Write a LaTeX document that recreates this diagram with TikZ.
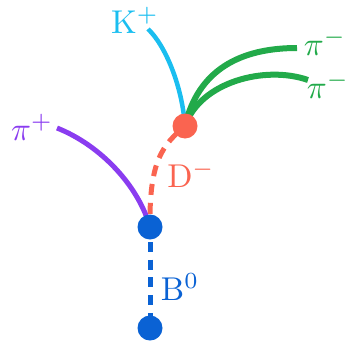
\documentclass[tikz,border=0pt]{standalone}
\definecolor{kcol}{HTML}{1ABEF0}
\definecolor{gcol}{HTML}{22AA4A}
\definecolor{pcol}{HTML}{8A3CF0}
\definecolor{rcol}{HTML}{FA6450}
\definecolor{bcol}{HTML}{0A62D4}
\begin{document}
\begin{tikzpicture}[x=1pt,y=-1pt,
  vtx/.style={circle, fill=#1, minimum size=25pt, inner sep=0pt},
  lbl/.style={inner sep=0pt, text=#1, scale=3.3, transform shape},
  trk/.style={draw=#1, line cap=butt},
  bdash/.style={draw=bcol, line width=5pt, dash pattern=on 10pt off 7.7pt, dash phase=2.7pt},
  rdash/.style={draw=rcol, line width=5pt, dash pattern=on 11pt off 8pt, dash phase=7.5pt}]
\useasboundingbox (0,0) rectangle (347,340);
\coordinate (Bb) at (150,328);
\coordinate (Bv) at (150,227);
\coordinate (Dv) at (185,126);
\coordinate (Kend) at (148,29);
\coordinate (P1end) at (297,48);
\coordinate (P2end) at (308,80);
\coordinate (Ppend) at (57,128);
% tracks
\draw[bdash] (Bv) -- (Bb);
\draw[rdash] (Dv) .. controls (163,145) and (149,160) .. (Bv);
\draw[trk=pcol, line width=5pt] (Ppend) .. controls (100,145) and (138,185) .. (Bv);
\draw[trk=kcol, line width=4.5pt] (Kend) .. controls (165,45) and (182,85) .. (Dv);
\draw[trk=gcol, line width=6pt] (Dv) .. controls (198,70) and (240,48) .. (P1end);
\draw[trk=gcol, line width=6pt] (Dv) .. controls (200,82) and (265,65) .. (P2end);
% vertices
\node[vtx=bcol] (Bbot) at (Bb) {};
\node[vtx=bcol] (Bvtx) at (Bv) {};
\node[vtx=rcol] (Dvtx) at (Dv) {};
% labels
\node[lbl=kcol] (Klbl) at (135,20) {$\mathrm{K}^{+}$};
\node[lbl=gcol] (pm1) at (325,42) {$\pi^{-}$};
\node[lbl=gcol] (pm2) at (328,85) {$\pi^{-}$};
\node[lbl=pcol] (pp) at (32,127) {$\pi^{+}$};
\node[lbl=rcol] (Dl) at (191,174) {$\mathrm{D}^{-}$};
\node[lbl=bcol] (Bl) at (180,287) {$\mathrm{B}^{0}$};
\end{tikzpicture}
\end{document}
